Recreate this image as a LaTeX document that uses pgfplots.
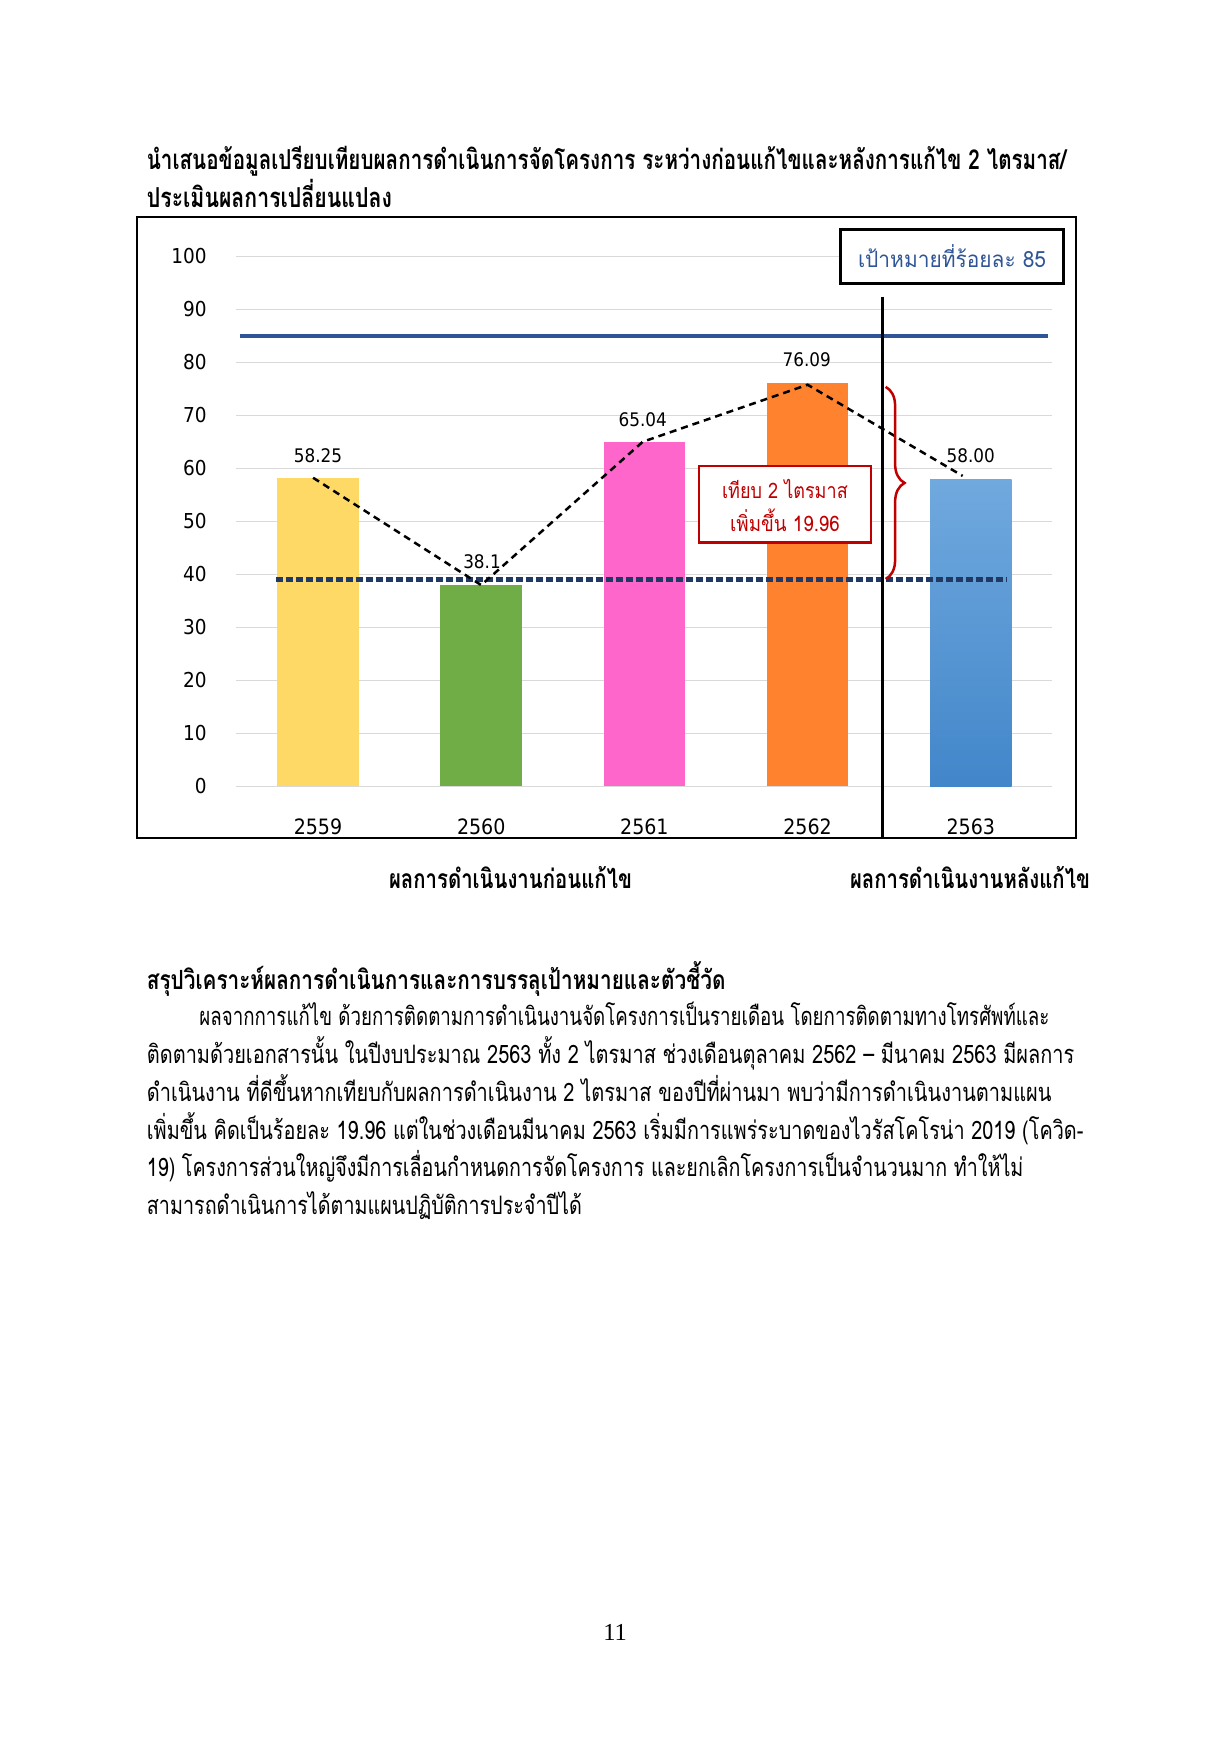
\documentclass[border=0pt]{standalone}
\usepackage{pgfplots}
\pgfplotsset{compat=1.18}
\usepackage{fontspec}
\usepackage{graphicx}
\usetikzlibrary{decorations.pathreplacing}
\setmainfont{Liberation Serif}
\newfontfamily\thaifont[Script=Thai]{Loma}
\newfontfamily\numfont{DejaVu Sans Condensed}
\newlength\pxu
\setlength\pxu{0.49bp}
\newcommand\fitw[2]{\resizebox{#1}{\height}{#2}}
\definecolor{barA}{HTML}{FFD966}
\definecolor{barB}{HTML}{70AD47}
\definecolor{barC}{HTML}{FF66CC}
\definecolor{barD}{HTML}{FF822F}
\definecolor{barEt}{HTML}{70A9DE}
\definecolor{barEb}{HTML}{4286CA}
\definecolor{target}{HTML}{2F5597}
\definecolor{navy}{HTML}{1F3864}
\definecolor{dred}{HTML}{C00000}
\definecolor{gridgray}{HTML}{D9D9D9}
\begin{document}
\begin{tikzpicture}[x=0.49bp,y=0.49bp]
\fill[white] (0,0) rectangle (1216,1754);
\path[use as bounding box] (0,0) rectangle (1216,1754);
\coordinate (axorig) at (236.4,1754-786.5);
% heading
\node[anchor=base west, inner sep=0] at (146.5,1754-170) {\fitw{919.5\pxu}{\thaifont\bfseries\fontsize{13.5}{16}\selectfont นำเสนอข้อมูลเปรียบเทียบผลการดำเนินการจัดโครงการ ระหว่างก่อนแก้ไขและหลังการแก้ไข 2 ไตรมาส/}};
\node[anchor=base west, inner sep=0] at (146.5,1754-208) {\fitw{245\pxu}{\thaifont\bfseries\fontsize{13.5}{16}\selectfont ประเมินผลการเปลี่ยนแปลง}};
\begin{axis}[
 at={(axorig)}, anchor=south west,
 scale only axis, width=816\pxu, height=530\pxu,
 xmin=-0.5, xmax=4.5, ymin=0, ymax=100,
 axis line style={draw=none}, major tick length=0pt, tick style={draw=none},
 ytick={0,10,...,100}, xtick={0,1,2,3,4}, xticklabels={2559,2560,2561,2562,2563},
 ymajorgrids, grid style={color=gridgray, line width=1.2\pxu},
 clip=false,
 /pgf/number format/assume math mode=true,
 yticklabel style={anchor=east, inner sep=0pt, xshift=-29.4\pxu, font=\numfont\fontsize{10.1}{12}\selectfont},
 xticklabel style={anchor=base, inner sep=0pt, yshift=-47.7\pxu, font=\numfont\fontsize{10.4}{12}\selectfont},
]
\addplot[ybar, bar width=0.5, bar shift=0pt, fill=barA, draw=none] coordinates {(0,58.25)};
\addplot[ybar, bar width=0.5, bar shift=0pt, fill=barB, draw=none] coordinates {(1,38.1)};
\addplot[ybar, bar width=0.5, bar shift=0pt, fill=barC, draw=none] coordinates {(2,65.04)};
\addplot[ybar, bar width=0.5, bar shift=0pt, fill=barD, draw=none] coordinates {(3,76.09)};
\addplot[ybar, bar width=0.5, bar shift=0pt, draw=none, top color=barEt, bottom color=barEb] coordinates {(4,58.00)};
\addplot[color=target, line width=4\pxu] coordinates {(-0.478,85) (4.473,85)};
\addplot[color=navy, line width=4.5\pxu, dash pattern=on 7\pxu off 3\pxu] coordinates {(-0.259,39.1) (4.22,39.1)};
\addplot[black, line width=2.5\pxu, dash pattern=on 7\pxu off 5\pxu] coordinates {(-0.03,58.25) (1.0,38.0) (1.99,65.04) (3.0,75.8) (3.95,58.6)};
\addplot[black, line width=2.5\pxu] coordinates {(3.46,92.4) (3.46,-9.72)};
% data labels
\node[font=\numfont\fontsize{9.2}{11}\selectfont, inner sep=0] at (axis cs:0,62.42) {58.25};
\node[font=\numfont\fontsize{9.2}{11}\selectfont, inner sep=0] at (axis cs:1.005,42.36) {38.1};
\node[font=\numfont\fontsize{9.2}{11}\selectfont, inner sep=0] at (axis cs:1.99,69.28) {65.04};
\node[font=\numfont\fontsize{9.2}{11}\selectfont, inner sep=0] at (axis cs:2.995,80.47) {76.09};
\node[font=\numfont\fontsize{9.2}{11}\selectfont, inner sep=0] at (axis cs:4.0,62.36) {58.00};
% legend box
\draw[line width=3\pxu, fill=white] (axis cs:3.203,105.1) rectangle (axis cs:4.571,94.9);
\node[anchor=base, inner sep=0, text=target] at (axis cs:3.885,97.96) {\fitw{188\pxu}{\thaifont\fontsize{11}{13}\selectfont เป้าหมายที่ร้อยละ 85}};
% red box
\draw[draw=dred, line width=2.5\pxu, fill=white] (axis cs:2.334,60.47) rectangle (axis cs:3.387,46.08);
\node[anchor=base, inner sep=0, text=dred] at (axis cs:2.861,54.25) {\fitw{125.7\pxu}{\thaifont\fontsize{10.5}{13}\selectfont เทียบ 2 ไตรมาส}};
\node[anchor=base, inner sep=0, text=dred] at (axis cs:2.861,48.08) {\fitw{109.7\pxu}{\thaifont\fontsize{10.5}{13}\selectfont เพิ่มขึ้น 19.96}};
\draw[dred, line width=2.5\pxu, decorate, decoration={brace, amplitude=19\pxu}] (axis cs:3.478,75.4) -- (axis cs:3.478,39.15);
\end{axis}
\draw[line width=2.5\pxu] (137,1754-217) rectangle (1076,1754-838);
% labels below chart
\node[anchor=base, inner sep=0] at (510.5,1754-889) {\fitw{243\pxu}{\thaifont\bfseries\fontsize{13}{16}\selectfont ผลการดำเนินงานก่อนแก้ไข}};
\node[anchor=base, inner sep=0] at (970,1754-889) {\fitw{240\pxu}{\thaifont\bfseries\fontsize{13}{16}\selectfont ผลการดำเนินงานหลังแก้ไข}};
% section
\node[anchor=base west, inner sep=0] at (146.5,1754-990) {\fitw{578.5\pxu}{\thaifont\bfseries\fontsize{13}{16}\selectfont สรุปวิเคราะห์ผลการดำเนินการและการบรรลุเป้าหมายและตัวชี้วัด}};
\node[anchor=base west, inner sep=0] at (199,1754-1026) {\fitw{850\pxu}{\thaifont\fontsize{12.5}{15}\selectfont ผลจากการแก้ไข ด้วยการติดตามการดำเนินงานจัดโครงการเป็นรายเดือน โดยการติดตามทางโทรศัพท์และ}};
\node[anchor=base west, inner sep=0] at (146.5,1754-1064) {\fitw{927.5\pxu}{\thaifont\fontsize{12.5}{15}\selectfont ติดตามด้วยเอกสารนั้น ในปีงบประมาณ 2563 ทั้ง 2 ไตรมาส ช่วงเดือนตุลาคม 2562 – มีนาคม 2563 มีผลการ}};
\node[anchor=base west, inner sep=0] at (146.5,1754-1102) {\fitw{904.5\pxu}{\thaifont\fontsize{12.5}{15}\selectfont ดำเนินงาน ที่ดีขึ้นหากเทียบกับผลการดำเนินงาน 2 ไตรมาส ของปีที่ผ่านมา พบว่ามีการดำเนินงานตามแผน}};
\node[anchor=base west, inner sep=0] at (146.5,1754-1140) {\fitw{936.5\pxu}{\thaifont\fontsize{12.5}{15}\selectfont เพิ่มขึ้น คิดเป็นร้อยละ 19.96 แต่ในช่วงเดือนมีนาคม 2563 เริ่มมีการแพร่ระบาดของไวรัสโคโรน่า 2019 (โควิด-}};
\node[anchor=base west, inner sep=0] at (146.5,1754-1177) {\fitw{876.5\pxu}{\thaifont\fontsize{12.5}{15}\selectfont 19) โครงการส่วนใหญ่จึงมีการเลื่อนกำหนดการจัดโครงการ และยกเลิกโครงการเป็นจำนวนมาก ทำให้ไม่}};
\node[anchor=base west, inner sep=0] at (146.5,1754-1215) {\fitw{435\pxu}{\thaifont\fontsize{12.5}{15}\selectfont สามารถดำเนินการได้ตามแผนปฏิบัติการประจำปีได้}};
% page number
\node[anchor=base, inner sep=0, font=\fontsize{12}{14}\selectfont] at (615,1754-1641) {11};
\end{tikzpicture}
\end{document}
